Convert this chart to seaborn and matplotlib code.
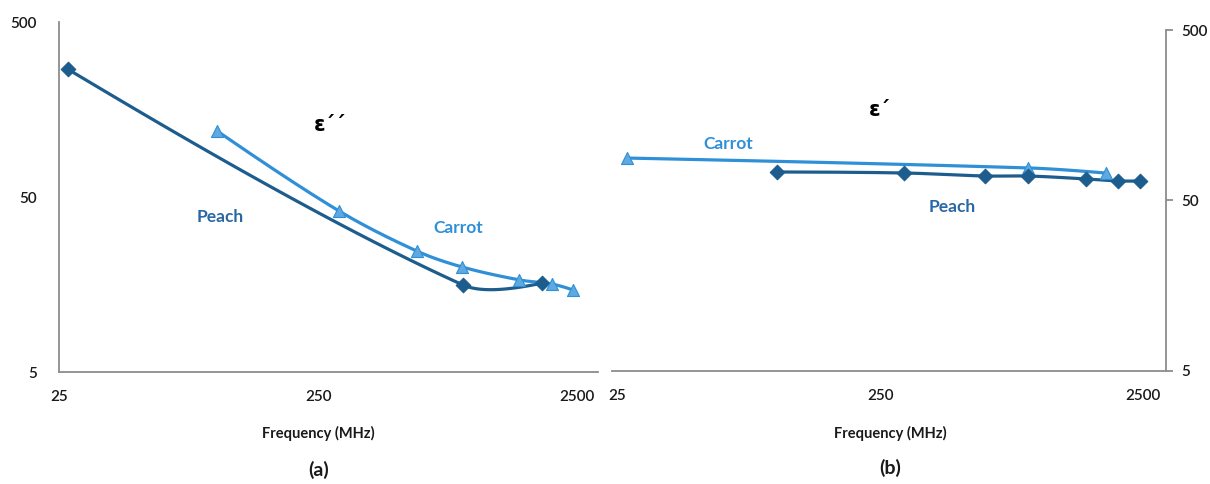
import matplotlib
matplotlib.use("Agg")
import matplotlib.pyplot as plt
import numpy as np
import seaborn as sns

# panel (a): loss factor
freq_a_carrot = [102, 301, 603, 900, 1494, 2000, 2415]
eps2_carrot = [119, 41.6, 24.5, 19.9, 16.8, 15.9, 14.7]
freq_a_peach = [27, 907, 1832]
eps2_peach = [269, 15.7, 16.1]

# panel (b): dielectric constant
freq_b_carrot = [27.3, 914, 1807]
eps1_carrot = [88.7, 77.6, 72.4]
freq_b_peach = [101, 308, 627, 914, 1518, 2008, 2437]
eps1_peach = [73.5, 72.5, 69.6, 69.6, 66.9, 65.1, 65.1]

x_ticks = [25, 250, 2500]
y_ticks = [5, 50, 500]

PEACH = "#1d5d8e"
PEACH_TXT = "#2a68a3"
CARROT = "#2f90d8"
CARROT_MK = "#5fa8e0"
AXIS = "#8c8c8c"


def smooth(x, y, n=40, k=1 / 3):
    """Excel-like smoothed line: bezier segments in log-log space,
    control arms scaled by the length of each segment."""
    p = np.column_stack([np.log10(x), np.log10(y)])
    m = len(p)
    d = np.linalg.norm(np.diff(p, axis=0), axis=1)
    c_out, c_in = [], []
    for i in range(m):
        if i == 0 or i == m - 1:
            c_out.append(p[i])
            c_in.append(p[i])
            continue
        v = p[i + 1] - p[i - 1]
        tot = d[i - 1] + d[i]
        c_out.append(p[i] + v * d[i] / tot * k)
        c_in.append(p[i] - v * d[i - 1] / tot * k)
    t = np.linspace(0, 1, n)[:, None]
    out = []
    for i in range(m - 1):
        b0, b3 = p[i], p[i + 1]
        b2 = c_in[i + 1] if i + 1 < m - 1 else None
        b1 = c_out[i] if i > 0 else None
        if b1 is None:
            b1 = p[i] + ((b2 if b2 is not None else b3) - p[i]) / 3
        if b2 is None:
            b2 = b3 + (b1 - b3) / 3
        seg = ((1 - t) ** 3 * b0 + 3 * (1 - t) ** 2 * t * b1
               + 3 * (1 - t) * t ** 2 * b2 + t ** 3 * b3)
        out.append(seg)
    out = np.vstack(out)
    return 10 ** out[:, 0], 10 ** out[:, 1]


def draw_series(ax, x, y, color, mcolor, marker, ms):
    sx, sy = smooth(x, y)
    ax.plot(sx, sy, color=color, lw=2.3, solid_capstyle="round", zorder=2)
    sns.scatterplot(x=x, y=y, ax=ax, marker=marker, s=ms, color=mcolor,
                    edgecolor=color, linewidth=0.8, zorder=3, legend=False)


def style_axes(ax, xlim, right=False):
    ax.set_xscale("log")
    ax.set_yscale("log")
    ax.set_xlim(*xlim)
    ax.set_ylim(5, 500)
    ax.set_xticks(x_ticks)
    ax.set_xticklabels([str(v) for v in x_ticks])
    ax.set_yticks(y_ticks)
    ax.set_yticklabels([str(v) for v in y_ticks])
    ax.minorticks_off()
    for s in ax.spines.values():
        s.set_visible(False)
    ax.spines["bottom"].set_visible(True)
    side = "right" if right else "left"
    ax.spines[side].set_visible(True)
    for s in ("bottom", side):
        ax.spines[s].set_color(AXIS)
        ax.spines[s].set_linewidth(1.3)
    if right:
        ax.yaxis.tick_right()
    ax.tick_params(axis="both", which="major", direction="out", length=5,
                   width=1.3, color=AXIS, labelsize=11, labelcolor="#1a1a1a")
    ax.tick_params(axis="x", pad=8)
    ax.tick_params(axis="y", pad=6 if right else 11)
    for lab in ax.get_xticklabels() + ax.get_yticklabels():
        lab.set_fontweight("semibold")
    ax.set_xlabel("")
    ax.set_ylabel("")


sns.set_theme(style="white")
plt.rcParams["font.family"] = ["Lato", "DejaVu Sans"]

fig = plt.figure(figsize=(12.1, 4.84), dpi=100)
ax_a = fig.add_axes([0.0488, 0.2314, 0.4455, 0.7231])
ax_b = fig.add_axes([0.5058, 0.2335, 0.4579, 0.7045])

# (a)
draw_series(ax_a, freq_a_peach, eps2_peach, PEACH, PEACH, "D", 55)
draw_series(ax_a, freq_a_carrot, eps2_carrot, CARROT, CARROT_MK, "^", 75)
style_axes(ax_a, (25, 3010))
ax_a.text(0.503, 0.706, "ε´´", transform=ax_a.transAxes, ha="center",
          va="center", fontsize=15, fontweight="bold", color="black",
          family=["DejaVu Sans"])
ax_a.text(0.299, 0.443, "Peach", transform=ax_a.transAxes, ha="center",
          va="center", fontsize=12.5, fontweight="bold", color=PEACH_TXT)
ax_a.text(0.740, 0.411, "Carrot", transform=ax_a.transAxes, ha="center",
          va="center", fontsize=12.5, fontweight="bold", color=CARROT)

# (b)
draw_series(ax_b, freq_b_carrot, eps1_carrot, CARROT, CARROT_MK, "^", 75)
draw_series(ax_b, freq_b_peach, eps1_peach, PEACH, PEACH, "D", 55)
style_axes(ax_b, (23.9, 3055), right=True)
ax_b.text(0.484, 0.765, "ε´", transform=ax_b.transAxes, ha="center",
          va="center", fontsize=15, fontweight="bold", color="black",
          family=["DejaVu Sans"])
ax_b.text(0.209, 0.666, "Carrot", transform=ax_b.transAxes, ha="center",
          va="center", fontsize=12.5, fontweight="bold", color=CARROT)
ax_b.text(0.614, 0.481, "Peach", transform=ax_b.transAxes, ha="center",
          va="center", fontsize=12.5, fontweight="bold", color=PEACH_TXT)

for xc, tag, yt in [(0.263, "(a)", 0.029), (0.736, "(b)", 0.033)]:
    fig.text(xc, 0.105, "Frequency (MHz)", ha="center", va="center",
             fontsize=10.5, fontweight="bold", color="#1a1a1a")
    fig.text(xc, yt, tag, ha="center", va="center", fontsize=14,
             fontweight="bold", color="#1a1a1a")

fig.savefig("out.png", dpi=100)
plt.close(fig)
